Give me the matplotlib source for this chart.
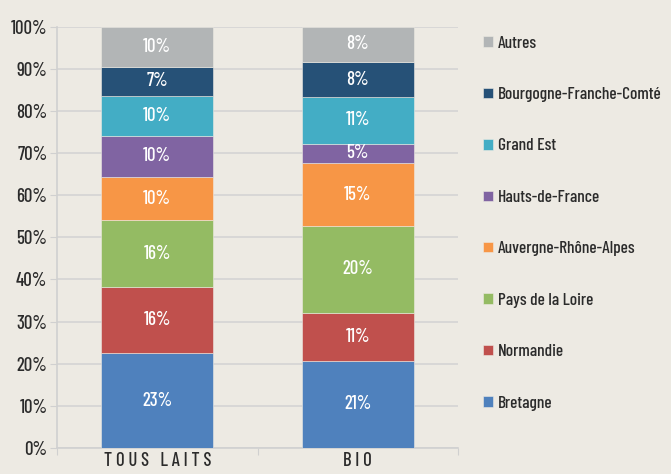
import numpy as np
import matplotlib
matplotlib.use("Agg")
import matplotlib.pyplot as plt

plt.rcParams['font.family'] = ['Barlow Condensed', 'DejaVu Sans']
plt.rcParams['font.weight'] = 500

categories = ["TOUS LAITS", "BIO"]
regions = ["Bretagne", "Normandie", "Pays de la Loire", "Auvergne-Rhône-Alpes",
           "Hauts-de-France", "Grand Est", "Bourgogne-Franche-Comté", "Autres"]
# parts (%)
tous_laits = [22.5, 15.7, 15.8, 10.4, 9.7, 9.5, 6.8, 9.6]
bio = [20.7, 11.4, 20.6, 14.9, 4.6, 11.1, 8.3, 8.4]
# labels printed on the bars
labels_tous = ["23%", "16%", "16%", "10%", "10%", "10%", "7%", "10%"]
labels_bio = ["21%", "11%", "20%", "15%", "5%", "11%", "8%", "8%"]

colors = ["#4f81bd", "#c0504d", "#94bb63", "#f79646",
          "#8064a2", "#43adc5", "#265177", "#b2b5b6"]
bg = "#edeae3"
txt_col = "#2b2b2b"
fs = 13.5

fig = plt.figure(figsize=(6.71, 4.74), dpi=100, facecolor=bg)
ax = fig.add_axes([0.085, 0.0549, 0.5976, 0.8888], facecolor=bg)

data = np.array([tous_laits, bio]).T
labels = [labels_tous, labels_bio]
x = np.array([0.5, 1.5])
bottom = np.zeros(2)
for i, reg in enumerate(regions):
    ax.bar(x, data[i], 0.56, bottom=bottom, color=colors[i], label=reg,
           edgecolor=bg, linewidth=0.4, zorder=3)
    for j in range(2):
        ax.text(x[j], bottom[j] + data[i][j] / 2, labels[j][i], ha="center", va="center",
                color="white", fontsize=fs, zorder=4)
    bottom = bottom + data[i]

ax.set_xlim(0, 2)
ax.set_ylim(0, 100)
ax.set_yticks(np.arange(0, 101, 10))
ax.set_yticklabels([f"{v}%" for v in range(0, 101, 10)], fontsize=fs, color=txt_col)
ax.set_xticks([0, 1, 2], minor=False)
ax.set_xticklabels([])
ax.set_xticks(x, minor=True)
ax.set_xticklabels(["T O U S   L A I T S", "B I O"], minor=True, fontsize=fs, color=txt_col)
ax.tick_params(axis="x", which="minor", length=0, pad=3)
ax.tick_params(axis="x", which="major", length=5, color="#d0d0d0", direction="out")
ax.tick_params(axis="y", length=5, color="#d0d0d0", pad=2)
ax.grid(axis="y", color="#d4d4d4", linewidth=1.2, zorder=0)
for s in ["top", "right"]:
    ax.spines[s].set_visible(False)
for s in ["left", "bottom"]:
    ax.spines[s].set_color("#d0d0d0")
    ax.spines[s].set_linewidth(1.2)

h, l = ax.get_legend_handles_labels()
fig.legend(h[::-1], l[::-1], loc="upper left", bbox_to_anchor=(0.697, 0.958),
           frameon=False, fontsize=12.5, handlelength=0.55, handleheight=0.55,
           handletextpad=0.3, labelspacing=2.1, labelcolor=txt_col)

fig.savefig("out.png", dpi=100, facecolor=bg)
